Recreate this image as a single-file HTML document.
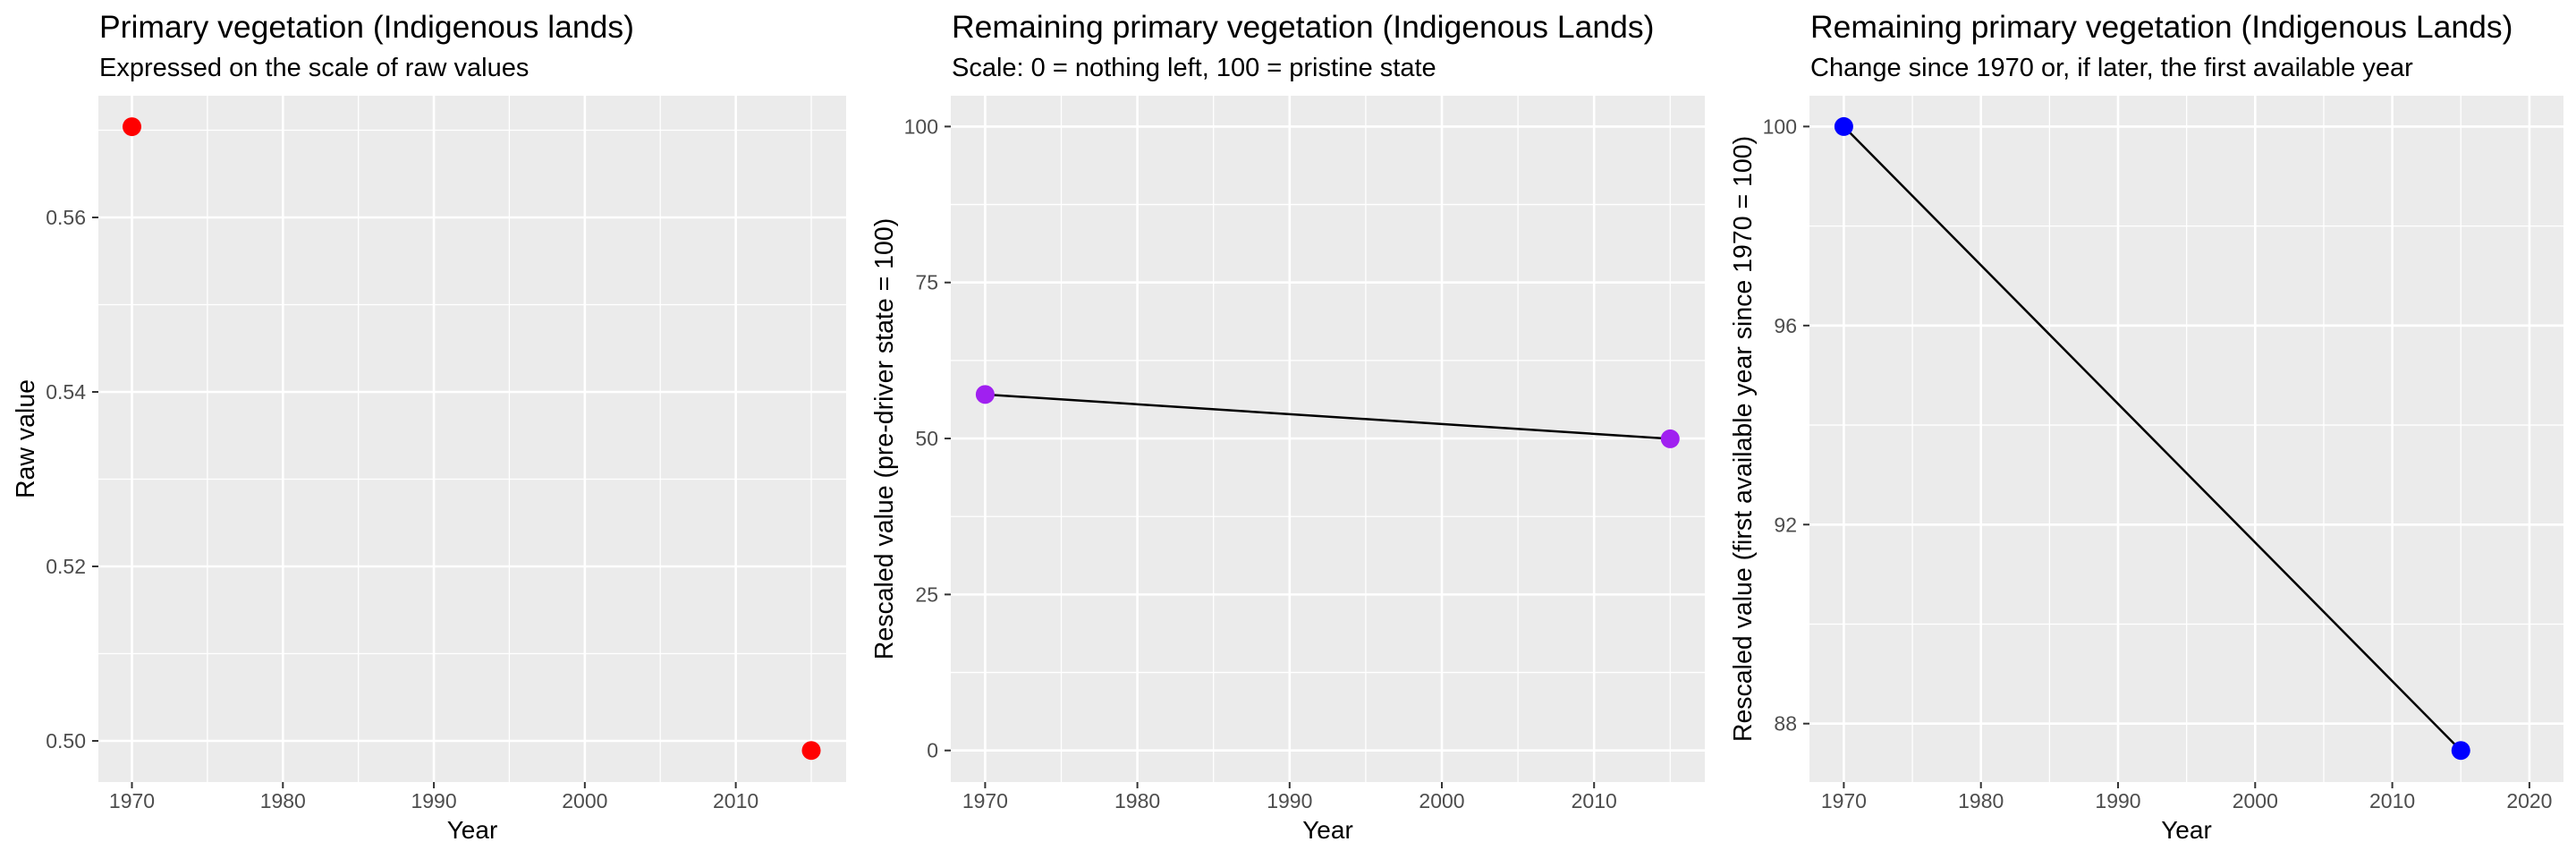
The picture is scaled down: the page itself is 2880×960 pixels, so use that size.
<!DOCTYPE html>
<html><head><meta charset="utf-8"><style>
body{margin:0;background:#fff;}
svg{display:block;font-family:"Liberation Sans",Arial,sans-serif;}
</style></head><body>
<svg id="chart" width="2880" height="960" viewBox="0 0 2880 960" xmlns="http://www.w3.org/2000/svg"></svg>
<script>
const years = [1970, 2015];
const rawValues = [0.5704, 0.4989];
const rescaledValues = [57.06, 49.95];
const changeValues = [100, 87.46];
const yTicks1 = [0.50, 0.52, 0.54, 0.56];
const yTicks2 = [0, 25, 50, 75, 100];
const yTicks3 = [88, 92, 96, 100];
const xTicks12 = [1970, 1980, 1990, 2000, 2010];
const xTicks3 = [1970, 1980, 1990, 2000, 2010, 2020];

const NS = "http://www.w3.org/2000/svg";
const svg = document.getElementById('chart');
function mk(tag, attrs, parent, text){
  const e = document.createElementNS(NS, tag);
  for (const k in attrs) e.setAttribute(k, attrs[k]);
  if (text !== undefined) e.textContent = text;
  (parent || svg).appendChild(e);
  return e;
}
function panel(cfg){
  const g = mk('g', {});
  
  
  const L = cfg.left, R = cfg.right, T = 107, B = 874;
  const sx = v => cfg.x0px + (v - cfg.x0) * (cfg.x1px - cfg.x0px) / (cfg.x1 - cfg.x0);
  const sy = v => cfg.y0px + (v - cfg.y0) * (cfg.y1px - cfg.y0px) / (cfg.y1 - cfg.y0);
  const t = mk('text', {x: L + 1, y: 42, 'font-size': 35.5, fill: '#000'}, g, cfg.title);
  
  
  const st = mk('text', {x: L + 1, y: 85, 'font-size': 29, fill: '#000'}, g, cfg.subtitle);
  
  
  const bg = mk('rect', {x: L, y: T, width: R - L, height: B - T, fill: '#ebebeb'}, g);
  
  
  const xt = cfg.xTicks;
  const xStep = xt[1] - xt[0];
  for (let i = 0; i < xt.length + 1; i++){
    const v = xt[0] + (i - 0.5) * xStep;
    const px = sx(v);
    if (px > L && px < R) mk('line', {x1: px, x2: px, y1: T, y2: B, stroke: '#fff', 'stroke-width': 1.3}, g);
  }
  const yt = cfg.yTicks;
  const yStep = yt[1] - yt[0];
  for (let i = 0; i < yt.length + 1; i++){
    const v = yt[0] + (i - 0.5) * yStep;
    const py = sy(v);
    if (py > T && py < B) mk('line', {x1: L, x2: R, y1: py, y2: py, stroke: '#fff', 'stroke-width': 1.3}, g);
  }
  xt.forEach(v => {
    const px = sx(v);
    mk('line', {x1: px, x2: px, y1: T, y2: B, stroke: '#fff', 'stroke-width': 2.6}, g);
    mk('line', {x1: px, x2: px, y1: B, y2: B + 7, stroke: '#333', 'stroke-width': 2}, g);
    const lb = mk('text', {x: px, y: 903, 'font-size': 23, fill: '#4d4d4d', 'text-anchor': 'middle'}, g, String(v));
    
    
  });
  yt.forEach(v => {
    const py = sy(v);
    mk('line', {x1: L, x2: R, y1: py, y2: py, stroke: '#fff', 'stroke-width': 2.6}, g);
    mk('line', {x1: L - 7, x2: L, y1: py, y2: py, stroke: '#333', 'stroke-width': 2}, g);
    const lb = mk('text', {x: L - 14, y: py + 8, 'font-size': 23, fill: '#4d4d4d', 'text-anchor': 'end'}, g, cfg.fmt(v));
    
    
  });
  const xa = mk('text', {x: (L + R) / 2, y: 937, 'font-size': 28, fill: '#000', 'text-anchor': 'middle'}, g, 'Year');
  
  
  const cy = (T + B) / 2;
  const ya = mk('text', {x: cfg.yTitleX, y: cy, 'font-size': 28.5, fill: '#000', 'text-anchor': 'middle', transform: `rotate(-90 ${cfg.yTitleX} ${cy})`}, g, cfg.yTitle);
  
  
  if (cfg.line){
    const pts = cfg.xs.map((x, i) => sx(x) + ',' + sy(cfg.ys[i])).join(' ');
    const pl = mk('polyline', {points: pts, fill: 'none', stroke: '#000', 'stroke-width': 2.5}, g);
    
    
  }
  cfg.xs.forEach((x, i) => {
    const c = mk('circle', {cx: sx(x), cy: sy(cfg.ys[i]), r: 10.5, fill: cfg.color}, g);
    
    
  });
}
panel({name: 'raw-value-panel', left: 110, right: 946, title: 'Primary vegetation (Indigenous lands)', subtitle: 'Expressed on the scale of raw values',
  x0: 1970, x1: 2015, x0px: 147.5, x1px: 907, y0: 0.50, y1: 0.56, y0px: 828, y1px: 243,
  xTicks: xTicks12, yTicks: yTicks1, fmt: v => v.toFixed(2), yTitle: 'Raw value', yTitleX: 38,
  xs: years, ys: rawValues, color: '#ff0000', line: false});
panel({name: 'rescaled-panel', left: 1063, right: 1906, title: 'Remaining primary vegetation (Indigenous Lands)', subtitle: 'Scale: 0 = nothing left, 100 = pristine state',
  x0: 1970, x1: 2015, x0px: 1101.4, x1px: 1867.3, y0: 0, y1: 100, y0px: 838.7, y1px: 141.4,
  xTicks: xTicks12, yTicks: yTicks2, fmt: v => String(v), yTitle: 'Rescaled value (pre-driver state = 100)', yTitleX: 998,
  xs: years, ys: rescaledValues, color: '#a020f0', line: true});
panel({name: 'change-panel', left: 2023, right: 2866, title: 'Remaining primary vegetation (Indigenous Lands)', subtitle: 'Change since 1970 or, if later, the first available year',
  x0: 1970, x1: 2020, x0px: 2061.4, x1px: 2827.9, y0: 88, y1: 100, y0px: 808.7, y1px: 141.4,
  xTicks: xTicks3, yTicks: yTicks3, fmt: v => String(v), yTitle: 'Rescaled value (first available year since 1970 = 100)', yTitleX: 1958,
  xs: years, ys: changeValues, color: '#0000ff', line: true});
</script>
</body></html>
